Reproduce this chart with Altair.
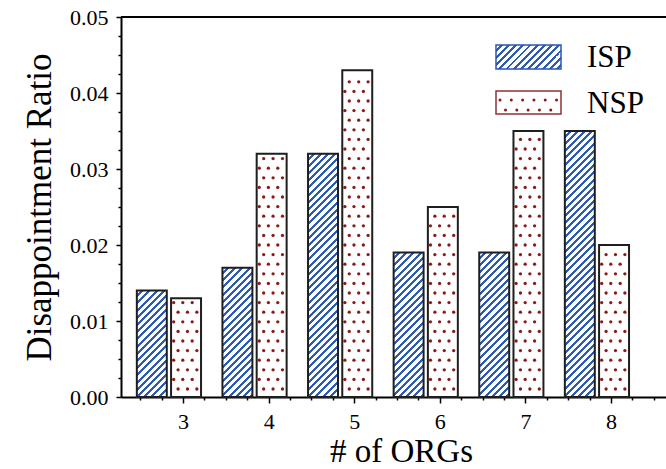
import altair as alt
import pandas as pd

# ---- data ----
orgs = [3, 4, 5, 6, 7, 8]
isp = [0.014, 0.017, 0.032, 0.019, 0.019, 0.035]
nsp = [0.013, 0.032, 0.043, 0.025, 0.035, 0.020]
series = ["ISP", "NSP"]
x_tick_values = [2.5 + 0.25 * i for i in range(25)]      # 2.5 .. 8.5 (majors at integers)
y_tick_values = [round(0.0025 * i, 4) for i in range(21)]  # 0 .. 0.05 (majors every 0.01)

# ---- layout / style constants ----
W, H = 545, 380
XDOM = [2.275, 2.275 + W / 85.6]
YDOM = [0.0, 0.05]
PX_X = (XDOM[1] - XDOM[0]) / W      # data units per pixel (x)
PX_Y = (YDOM[1] - YDOM[0]) / H      # data units per pixel (y)
FONT = "Liberation Serif"
BLUE = "#2d5bb3"
DOT = "#8b1a1a"
EDGE = "#1e1e1e"
ISP_OFF = (-0.54, -0.19)
NSP_OFF = (-0.14, 0.21)

df = pd.DataFrame({"org": orgs, "ISP": isp, "NSP": nsp})


def hatch(w, h, period=7.2, frac=0.40, color=BLUE):
    """'/' hatch as a hard-stop linear gradient in the mark's bounding box."""
    L = w + h
    a = L / (w * w + h * h)
    P = period / L
    stops = []
    t = 0.0
    while t < 1 - 1e-9:
        t1 = min(t + P * (1 - frac), 1.0)
        t2 = min(t + P, 1.0)
        for off, c in ((t, "white"), (t1, "white"), (t1, color), (t2, color)):
            stops.append({"offset": round(off, 6), "color": c})
        t += P
    return {"gradient": "linear", "x1": 0, "y1": 0,
            "x2": round(w * a, 6), "y2": round(h * a, 6), "stops": stops}


XS = alt.Scale(domain=XDOM, nice=False, zero=False)
YS = alt.Scale(domain=YDOM, nice=False)

xaxis = alt.Axis(
    values=x_tick_values,
    labelExpr="datum.value % 1 == 0 ? format(datum.value, 'd') : ''",
    tickSize={"condition": {"test": "datum.value % 1 == 0", "value": 6}, "value": 3},
    labelPadding=25, labelBaseline="alphabetic", labelFont=FONT, labelFontSize=22,
    labelColor="black", labelOverlap=False, labelFlush=False,
    domainColor="black", domainWidth=2, tickColor="black", tickWidth=1.5, grid=False,
    title="# of ORGs", titleFont=FONT, titleFontSize=33, titleFontWeight="normal",
    titleColor="black", titleX=280, titleY=64, titleAlign="center", titleBaseline="alphabetic",
)
yaxis = alt.Axis(
    values=y_tick_values,
    labelExpr="abs(datum.value*100 - round(datum.value*100)) < 0.001 ? format(datum.value, '.2f') : ''",
    tickSize={"condition": {"test": "abs(datum.value*100 - round(datum.value*100)) < 0.001", "value": 5},
              "value": 3},
    labelPadding=8, labelFont=FONT, labelFontSize=22, labelColor="black",
    labelOverlap=False, labelFlush=False,
    domainColor="black", domainWidth=2, tickColor="black", tickWidth=1.5, grid=False,
    title="Disappointment Ratio", titleFont=FONT, titleFontSize=35, titleFontWeight="normal",
    titleColor="black", titleAngle=-90, titleX=-71, titleY=190, titleAlign="center",
    titleBaseline="alphabetic",
)


def X(field):
    return alt.X(field, type="quantitative", scale=XS, axis=xaxis)


def Y(field):
    return alt.Y(field, type="quantitative", scale=YS, axis=yaxis)


layers = []

# ISP bars: one layer per bar so each gets a hatch sized to its box
bar_w = (ISP_OFF[1] - ISP_OFF[0]) / PX_X
for o, v in zip(orgs, isp):
    layers.append(
        alt.Chart(df)
        .transform_filter(f"datum.org == {o}")
        .transform_calculate(x0=f"datum.org + ({ISP_OFF[0]})", x1=f"datum.org + ({ISP_OFF[1]})")
        .mark_bar(fill=hatch(bar_w, v / PX_Y), stroke=EDGE, strokeWidth=2)
        .encode(x=X("x0"), x2="x1:Q", y=Y("ISP"), y2=alt.Y2(datum=0))
    )

# NSP bars (white) with dotted fill
layers.append(
    alt.Chart(df)
    .transform_calculate(x0=f"datum.org + ({NSP_OFF[0]})", x1=f"datum.org + ({NSP_OFF[1]})")
    .mark_bar(fill="white", stroke=EDGE, strokeWidth=2)
    .encode(x=X("x0"), x2="x1:Q", y=Y("NSP"), y2=alt.Y2(datum=0))
)

dot_rows = []
for o, v in zip(orgs, nsp):
    hpx = v / PX_Y
    k = 0
    while 8 + 9.6 * k <= hpx - 4:
        offs = [7.0, 16.4, 25.8] if k % 2 == 0 else [2.6, 11.7, 21.1]
        for off in offs:
            dot_rows.append({"dx": o + NSP_OFF[0] + off * PX_X, "dy": (8 + 9.6 * k) * PX_Y})
        k += 1
dots = pd.DataFrame(dot_rows)
layers.append(
    alt.Chart(dots).mark_circle(size=11, color=DOT, opacity=1)
    .encode(x=X("dx"), y=Y("dy"))
)

# top frame line at the top of the y domain
layers.append(
    alt.Chart(pd.DataFrame({"top": [YDOM[1]]}))
    .mark_rule(color="black", strokeWidth=2)
    .encode(y=Y("top"))
)

# ---- legend ----
leg = pd.DataFrame({"s": series})
layers.append(
    alt.Chart(leg).transform_filter("datum.s == 'ISP'")
    .mark_rect(fill=hatch(65, 24), stroke="#2a56b2", strokeWidth=1.5)
    .encode(x=alt.value(375), x2=alt.value(440), y=alt.value(28), y2=alt.value(52))
)
layers.append(
    alt.Chart(leg).transform_filter("datum.s == 'NSP'")
    .mark_rect(fill="white", stroke="#8b3333", strokeWidth=1.5)
    .encode(x=alt.value(375), x2=alt.value(440), y=alt.value(74), y2=alt.value(97))
)
layers.append(
    alt.Chart(leg).transform_filter("datum.s == 'NSP'")
    .mark_rule(color=DOT, strokeWidth=3, strokeCap="round", strokeDash=[0.01, 11.3])
    .encode(x=alt.value(379), x2=alt.value(438), y=alt.value(83))
)
layers.append(
    alt.Chart(leg).transform_filter("datum.s == 'NSP'")
    .mark_rule(color=DOT, strokeWidth=3, strokeCap="round", strokeDash=[0.01, 11.3])
    .encode(x=alt.value(384.5), x2=alt.value(438), y=alt.value(93))
)
layers.append(
    alt.Chart(leg).transform_filter("datum.s == 'ISP'")
    .mark_text(font=FONT, fontSize=31, align="left", baseline="alphabetic", color="black")
    .encode(x=alt.value(466), y=alt.value(50), text="s:N")
)
layers.append(
    alt.Chart(leg).transform_filter("datum.s == 'NSP'")
    .mark_text(font=FONT, fontSize=31, align="left", baseline="alphabetic", color="black")
    .encode(x=alt.value(466), y=alt.value(96), text="s:N")
)

chart = (
    alt.layer(*layers)
    .properties(
        width=W, height=H,
        autosize=alt.AutoSizeParams(type="none"),
        padding={"left": 121, "top": 17, "right": 0, "bottom": 72},
        background="white",
    )
    .configure_view(stroke=None)
)

chart.save("out.html", embed_options={"renderer": "svg", "actions": False})
